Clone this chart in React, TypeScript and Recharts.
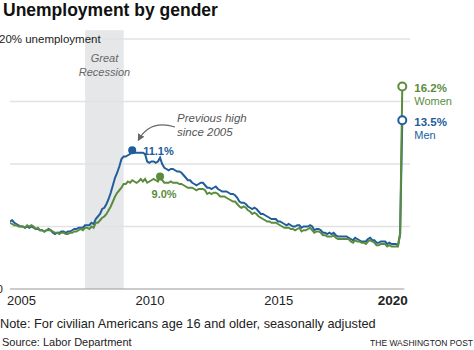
import React from 'react';
import { LineChart, Line, XAxis, YAxis, ReferenceLine, ReferenceArea, ReferenceDot } from 'recharts';

const START_YEAR = 2005;

// Monthly unemployment rate (%), Jan 2005 – Apr 2020
const men = [
  5.4, 5.5, 5.3, 5.2, 5.1, 5.0, 5.0, 4.9, 5.0, 4.9, 5.0, 4.9,
  4.8, 4.8, 4.7, 4.7, 4.6, 4.7, 4.8, 4.7, 4.5, 4.4, 4.5, 4.5,
  4.6, 4.6, 4.5, 4.6, 4.6, 4.7, 4.8, 4.8, 4.9, 4.9, 4.9, 5.1,
  5.1, 5.1, 5.3, 5.2, 5.6, 5.8, 6.0, 6.4, 6.5, 6.8, 7.2, 7.7,
  8.3, 8.9, 9.3, 9.8, 10.4, 10.6, 10.6, 10.7, 10.8, 11.1, 10.9, 10.9,
  10.9, 10.9, 10.9, 10.8, 10.2, 10.1, 10.2, 10.2, 10.1, 10.2, 10.5, 10.0,
  9.7, 9.6, 9.5, 9.6, 9.6, 9.5, 9.4, 9.4, 9.3, 9.1, 8.9, 8.7,
  8.7, 8.5, 8.4, 8.3, 8.4, 8.5, 8.5, 8.3, 8.1, 8.1, 8.0, 8.1,
  8.2, 8.0, 7.9, 7.8, 7.8, 7.8, 7.7, 7.6, 7.6, 7.5, 7.3, 7.0,
  6.9, 6.9, 6.8, 6.6, 6.5, 6.4, 6.5, 6.4, 6.2, 6.0, 6.0, 5.9,
  5.8, 5.7, 5.6, 5.6, 5.6, 5.4, 5.4, 5.3, 5.2, 5.1, 5.2, 5.1,
  5.0, 5.0, 5.1, 5.1, 4.9, 5.0, 5.0, 5.0, 5.1, 5.0, 4.7, 4.8,
  4.8, 4.7, 4.5, 4.5, 4.4, 4.5, 4.4, 4.5, 4.3, 4.2, 4.2, 4.2,
  4.2, 4.2, 4.1, 4.0, 3.9, 4.1, 4.0, 3.9, 3.8, 3.8, 3.8, 4.0,
  4.1, 3.9, 3.9, 3.7, 3.7, 3.8, 3.8, 3.8, 3.6, 3.7, 3.6, 3.6,
  3.6, 3.5, 4.4, 13.5,
];

const women = [
  5.3, 5.2, 5.1, 5.1, 5.0, 5.0, 5.0, 4.9, 5.1, 5.0, 5.1, 5.0,
  4.8, 4.9, 4.7, 4.7, 4.6, 4.7, 4.7, 4.7, 4.6, 4.5, 4.5, 4.4,
  4.5, 4.5, 4.4, 4.4, 4.5, 4.5, 4.6, 4.6, 4.7, 4.8, 4.7, 4.9,
  4.9, 4.8, 5.0, 4.9, 5.3, 5.3, 5.5, 5.7, 5.8, 6.0, 6.3, 6.6,
  7.0, 7.4, 7.7, 7.9, 8.1, 8.4, 8.4, 8.6, 8.5, 8.7, 8.6, 8.5,
  8.6, 8.8, 8.6, 8.8, 8.5, 8.6, 8.7, 8.8, 8.7, 8.6, 9.0, 8.7,
  8.5, 8.5, 8.5, 8.6, 8.5, 8.5, 8.5, 8.4, 8.4, 8.3, 8.2, 8.1,
  8.1, 8.1, 8.0, 7.9, 8.0, 8.0, 8.0, 7.9, 7.6, 7.7, 7.6, 7.7,
  7.7, 7.6, 7.4, 7.4, 7.4, 7.3, 7.2, 7.1, 7.0, 7.0, 6.8, 6.6,
  6.5, 6.6, 6.5, 6.3, 6.2, 6.0, 6.1, 6.0, 5.8, 5.7, 5.6, 5.5,
  5.4, 5.4, 5.3, 5.3, 5.3, 5.2, 5.1, 5.0, 4.9, 4.9, 4.9, 4.8,
  4.8, 4.7, 4.8, 4.9, 4.6, 4.7, 4.7, 4.8, 4.9, 4.7, 4.5, 4.6,
  4.6, 4.5, 4.3, 4.3, 4.2, 4.2, 4.2, 4.3, 4.1, 4.0, 4.0, 4.0,
  4.0, 4.0, 4.0, 3.8, 3.7, 3.9, 3.8, 3.8, 3.7, 3.7, 3.6, 3.8,
  3.9, 3.8, 3.7, 3.5, 3.5, 3.6, 3.6, 3.6, 3.4, 3.5, 3.4, 3.4,
  3.4, 3.4, 4.4, 16.2,
];

const xTicks = [2005, 2010, 2015, 2020];
const gridValues = [5, 10, 15];
const recession = [2007.92, 2009.42];

const BLUE = '#215d9b';
const GREEN = '#5b8c3d';
const FONT = '"Liberation Sans", Arial, sans-serif';

const rows = men.map((m, i) => ({ t: START_YEAR + i / 12, men: m, women: women[i] }));
const history = rows.slice(0, -2);
const menPeak = history.reduce((a, b) => (b.men > a.men ? b : a));
const womenPeak = history.reduce((a, b) => (b.women > a.women ? b : a));
const last = rows[rows.length - 1];

const XTick = ({ x, payload }: any) => {
  const bold = payload.value === 2020;
  return (
    <text x={bold ? x - 3 : x - 3} y={304.5} textAnchor={bold ? 'middle' : 'start'}
      fontSize={bold ? 13.5 : 13} fontWeight={bold ? 700 : 400} fill="#222">
      {payload.value}
    </text>
  );
};

const YTick = ({ y, payload }: any) =>
  payload.value === 20 ? (
    <text x={-1} y={y + 4} fontSize={11.5} fill="#222">20% unemployment</text>
  ) : (
    <text x={3} y={y + 4} textAnchor="end" fontSize={11.5} fill="#222">0</text>
  );

const App = () => (
  <div style={{ position: 'absolute', left: 0, top: 0, width: 474, height: 350, background: '#fff', fontFamily: FONT }}>
    <LineChart width={474} height={350} data={rows} margin={{ top: 39, right: 64, bottom: 41, left: 0 }}>
      <ReferenceArea x1={recession[0]} x2={recession[1]} y1={0} y2={20.7} ifOverflow="visible"
        fill="#e6e7e8" fillOpacity={1} stroke="none" />
      {gridValues.map((v) => (
        <ReferenceLine key={v} y={v} stroke="#e2e2e2" strokeWidth={1.5} />
      ))}
      <ReferenceLine segment={[{ x: 2008.62, y: 20 }, { x: 2020.55, y: 20 }]} stroke="#e2e2e2" strokeWidth={1.5} />
      <ReferenceLine segment={[{ x: 2005, y: 0 }, { x: 2020.33, y: 0 }]} stroke="#999" strokeWidth={1} />
      <XAxis dataKey="t" type="number" domain={[2005, 2020.55]} ticks={xTicks} allowDataOverflow
        axisLine={false} tickLine={false} height={20} tick={<XTick />} interval={0} />
      <YAxis type="number" domain={[0, 20]} ticks={[0, 20]} width={10} axisLine={false} tickLine={false}
        tick={<YTick />} interval={0} />
      <Line type="linear" dataKey="men" stroke={BLUE} strokeWidth={2} dot={false} isAnimationActive={false} />
      <Line type="linear" dataKey="women" stroke={GREEN} strokeWidth={2} dot={false} isAnimationActive={false} />
      <ReferenceDot x={menPeak.t} y={menPeak.men} r={4} ifOverflow="visible"
        shape={(p: any) => (
          <g>
            <circle cx={p.cx} cy={p.cy} r={4} fill={BLUE} />
            <text x={p.cx + 11} y={p.cy + 4.5} fontSize={11} fontWeight={700} fill={BLUE}>{menPeak.men.toFixed(1)}%</text>
          </g>
        )} />
      <ReferenceDot x={womenPeak.t} y={womenPeak.women} r={4} ifOverflow="visible"
        shape={(p: any) => (
          <g>
            <circle cx={p.cx} cy={p.cy} r={4} fill={GREEN} />
            <text x={p.cx - 8.5} y={p.cy + 21} fontSize={11} fontWeight={700} fill={GREEN}>{womenPeak.women.toFixed(1)}%</text>
          </g>
        )} />
      <ReferenceDot x={last.t} y={last.women} r={4} ifOverflow="visible"
        shape={(p: any) => (
          <g>
            <circle cx={p.cx} cy={p.cy} r={4} fill="#fff" stroke={GREEN} strokeWidth={2} />
            <text x={p.cx + 12} y={p.cy + 5} fontSize={11.5} fontWeight={700} fill={GREEN}>{last.women.toFixed(1)}%</text>
            <text x={p.cx + 12} y={p.cy + 18.5} fontSize={11} fill={GREEN}>Women</text>
          </g>
        )} />
      <ReferenceDot x={last.t} y={last.men} r={4} ifOverflow="visible"
        shape={(p: any) => (
          <g>
            <circle cx={p.cx} cy={p.cy} r={4} fill="#fff" stroke={BLUE} strokeWidth={2} />
            <text x={p.cx + 12} y={p.cy + 5.5} fontSize={11.5} fontWeight={700} fill={BLUE}>{last.men.toFixed(1)}%</text>
            <text x={p.cx + 12} y={p.cy + 18.5} fontSize={11} fill={BLUE}>Men</text>
          </g>
        )} />
    </LineChart>

    <svg width={474} height={350} style={{ position: 'absolute', left: 0, top: 0, pointerEvents: 'none' }}>
      <defs>
        <marker id="arrowHead" viewBox="0 0 10 10" refX="8" refY="5" markerWidth="6" markerHeight="6" orient="auto">
          <path d="M0,0 L10,5 L0,10 z" fill="#666" />
        </marker>
      </defs>
      <text x={3} y={16} fontSize={17.5} fontWeight={700} fill="#111">Unemployment by gender</text>

      <text x={104.5} y={62} textAnchor="middle" fontSize={11} fontStyle="italic" fill="#666">Great</text>
      <text x={104.5} y={75.5} textAnchor="middle" fontSize={11} fontStyle="italic" fill="#666">Recession</text>

      <text x={177} y={122} fontSize={11.5} fontStyle="italic" fill="#555">Previous high</text>
      <text x={177} y={136} fontSize={11.5} fontStyle="italic" fill="#555">since 2005</text>
      <path d="M 175 127 Q 150 119 138.5 140" fill="none" stroke="#666" strokeWidth={1.2} markerEnd="url(#arrowHead)" />

      <text x={0} y={327.5} fontSize={12.75} fill="#222">Note: For civilian Americans age 16 and older, seasonally adjusted</text>
      <text x={2} y={346} fontSize={11} fill="#222">Source: Labor Department</text>
      <text x={473} y={346} textAnchor="end" fontSize={8.5} fill="#222">THE WASHINGTON POST</text>
    </svg>
  </div>
);

export default App;
